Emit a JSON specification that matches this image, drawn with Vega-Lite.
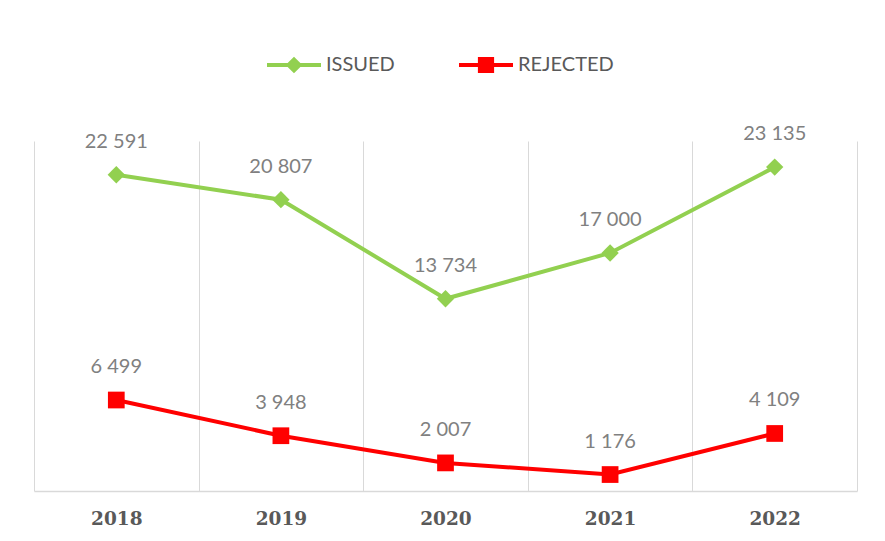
{
  "$schema": "https://vega.github.io/schema/vega-lite/v6.json",
  "width": 823,
  "height": 350,
  "autosize": {"type": "none"},
  "padding": {"left": 34, "top": 141, "right": 28, "bottom": 50},
  "background": "white",
  "config": {
    "view": {"stroke": null},
    "locale": {"number": {"decimal": ".", "thousands": " ", "grouping": [3], "currency": ["", ""]}}
  },
  "data": {
    "values": [
      {"year": "2018", "series": "ISSUED", "value": 22591},
      {"year": "2019", "series": "ISSUED", "value": 20807},
      {"year": "2020", "series": "ISSUED", "value": 13734},
      {"year": "2021", "series": "ISSUED", "value": 17000},
      {"year": "2022", "series": "ISSUED", "value": 23135},
      {"year": "2018", "series": "REJECTED", "value": 6499},
      {"year": "2019", "series": "REJECTED", "value": 3948},
      {"year": "2020", "series": "REJECTED", "value": 2007},
      {"year": "2021", "series": "REJECTED", "value": 1176},
      {"year": "2022", "series": "REJECTED", "value": 4109}
    ]
  },
  "encoding": {
    "x": {
      "field": "year",
      "type": "ordinal",
      "scale": {"paddingInner": 0, "paddingOuter": 0},
      "axis": {
        "title": null,
        "labelAngle": 0,
        "tickBand": "extent",
        "ticks": false,
        "grid": true,
        "gridColor": "#d9d9d9",
        "gridWidth": 1,
        "domainColor": "#d9d9d9",
        "domainWidth": 1.5,
        "labelFont": "DejaVu Serif",
        "labelFontWeight": "bold",
        "labelFontSize": 18.5,
        "labelColor": "#595959",
        "labelBaseline": "middle",
        "labelPadding": 27
      }
    },
    "y": {
      "field": "value",
      "type": "quantitative",
      "scale": {"domain": [0, 25000], "nice": false},
      "axis": null
    }
  },
  "layer": [
    {
      "mark": {"type": "point", "filled": true, "opacity": 0},
      "encoding": {
        "color": {
          "field": "series",
          "type": "nominal",
          "scale": {"domain": ["ISSUED", "REJECTED"], "range": ["#92d050", "#ff0000"]},
          "legend": {
            "title": null,
            "orient": "none",
            "direction": "horizontal",
            "legendX": 233,
            "legendY": -103,
            "padding": 0,
            "symbolSize": 2916,
            "symbolStrokeWidth": 0,
            "symbolOpacity": 1,
            "labelFont": "Lato",
            "labelFontSize": 20,
            "labelColor": "#595959",
            "labelOffset": 5,
            "columnPadding": 64
          }
        },
        "shape": {
          "field": "series",
          "type": "nominal",
          "scale": {
            "domain": ["ISSUED", "REJECTED"],
            "range": [
              "M-1,-0.075H1V0.075H-1ZM0,-0.31L0.31,0L0,0.31L-0.31,0Z",
              "M-1,-0.075H1V0.075H-1ZM-0.3,-0.3H0.3V0.3H-0.3Z"
            ]
          },
          "legend": null
        }
      }
    },
    {
      "mark": {"type": "line", "strokeWidth": 4},
      "encoding": {
        "color": {"field": "series", "type": "nominal"}
      }
    },
    {
      "transform": [{"filter": "datum.series === 'ISSUED'"}],
      "mark": {"type": "point", "filled": true, "opacity": 1, "size": 300, "shape": "diamond", "color": "#92d050"},
      "encoding": {}
    },
    {
      "transform": [{"filter": "datum.series === 'REJECTED'"}],
      "mark": {"type": "point", "filled": true, "opacity": 1, "size": 280, "shape": "square", "color": "#ff0000"},
      "encoding": {}
    },
    {
      "mark": {"type": "text", "dy": -33, "baseline": "middle", "align": "center", "font": "Lato", "fontSize": 20, "color": "#808080"},
      "encoding": {
        "text": {"field": "value", "type": "quantitative", "format": ","}
      }
    }
  ]
}
